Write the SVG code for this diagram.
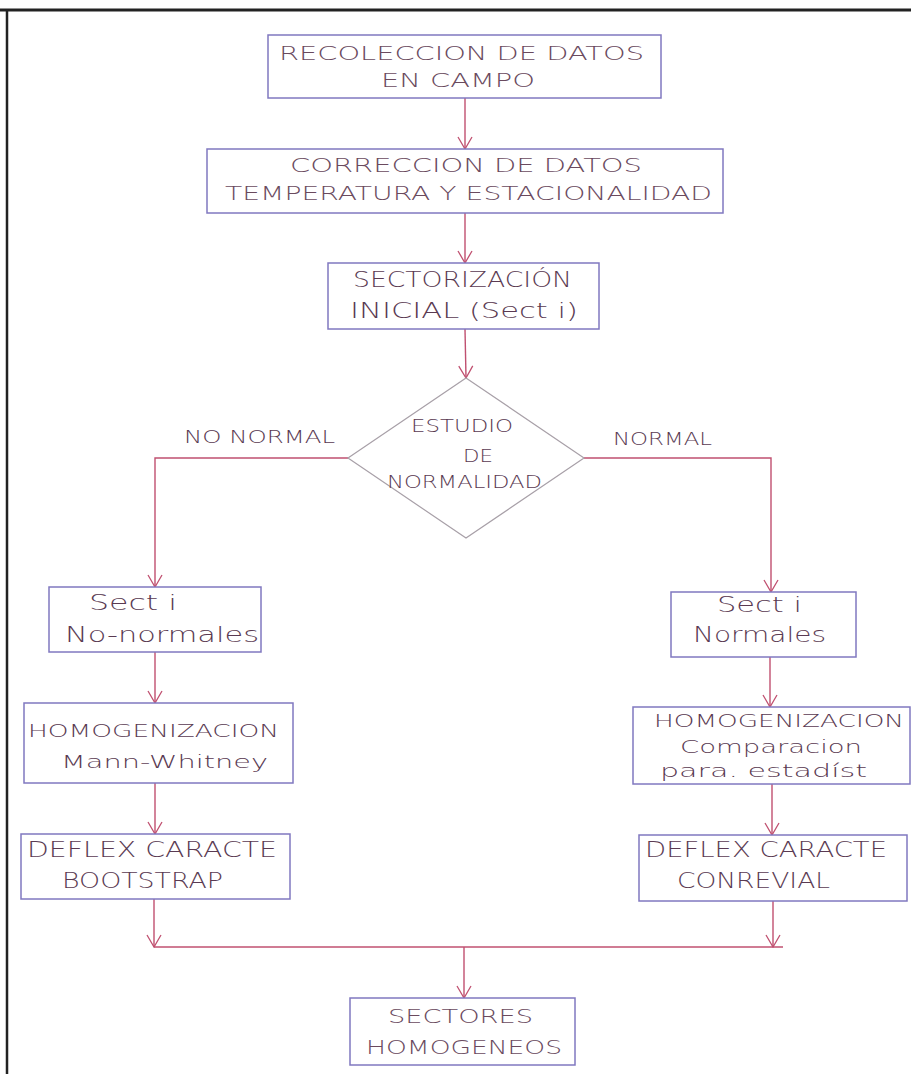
<svg xmlns="http://www.w3.org/2000/svg" width="911" height="1074" viewBox="0 0 911 1074">
<style>
.box{fill:#fff;stroke:#8078c0;stroke-width:1.5}
.dia{fill:#fff;stroke:#a8a0a8;stroke-width:1.2}
.con{fill:none;stroke:#c05070;stroke-width:1.4}
.t{font-family:"DejaVu Sans","Liberation Sans",sans-serif;font-weight:200;fill:#5a3a52}
.n{font-family:"DejaVu Sans","Liberation Sans",sans-serif;font-weight:200;fill:#6a4a5e}
.frame{stroke:#222;fill:none}
</style>
<defs>
<marker id="arr" markerUnits="userSpaceOnUse" markerWidth="14" markerHeight="16" viewBox="0 0 14 16" refX="13" refY="8" orient="auto">
<path d="M1,1 L13,8 L1,15" fill="none" stroke="#c05070" stroke-width="1.3"/>
</marker>
</defs>
<rect width="911" height="1074" fill="#fff"/>
<g id="frame">
<line class="frame" x1="0" y1="10" x2="911" y2="10" stroke-width="3"/>
<line class="frame" x1="7" y1="9" x2="7" y2="1074" stroke-width="2.5"/>
</g>
<g id="connectors">
<line class="con" x1="465" y1="98" x2="465" y2="149" marker-end="url(#arr)"/>
<line class="con" x1="465" y1="213" x2="465" y2="263" marker-end="url(#arr)"/>
<line class="con" x1="465" y1="329" x2="466" y2="378" marker-end="url(#arr)"/>
<polyline class="con" points="348,458 155,458 155,587" marker-end="url(#arr)"/>
<polyline class="con" points="584,458 771,458 771,592" marker-end="url(#arr)"/>
<line class="con" x1="155" y1="652" x2="155" y2="703" marker-end="url(#arr)"/>
<line class="con" x1="155" y1="783" x2="155" y2="834" marker-end="url(#arr)"/>
<line class="con" x1="770" y1="657" x2="770" y2="707" marker-end="url(#arr)"/>
<line class="con" x1="772" y1="784" x2="772" y2="835" marker-end="url(#arr)"/>
<line class="con" x1="154" y1="899" x2="154" y2="947" marker-end="url(#arr)"/>
<line class="con" x1="773" y1="901" x2="773" y2="947" marker-end="url(#arr)"/>
<line class="con" x1="154" y1="947" x2="783" y2="947"/>
<line class="con" x1="464" y1="947" x2="464" y2="998" marker-end="url(#arr)"/>
</g>
<g id="n1">
<rect class="box" x="268" y="35" width="393" height="63"/>
<text class="n" x="279" y="60" font-size="19" textLength="365" lengthAdjust="spacingAndGlyphs">RECOLECCION DE DATOS</text>
<text class="n" x="381" y="87" font-size="19" textLength="154" lengthAdjust="spacingAndGlyphs">EN CAMPO</text>
</g>
<g id="n2">
<rect class="box" x="207" y="149" width="516" height="64"/>
<text class="n" x="290" y="172" font-size="19" textLength="352" lengthAdjust="spacingAndGlyphs">CORRECCION DE DATOS</text>
<text class="n" x="225" y="200" font-size="19" textLength="487" lengthAdjust="spacingAndGlyphs">TEMPERATURA Y ESTACIONALIDAD</text>
</g>
<g id="n3">
<rect class="box" x="328" y="263" width="271" height="66"/>
<text class="t" x="353" y="287" font-size="22" textLength="219" lengthAdjust="spacingAndGlyphs">SECTORIZACIÓN</text>
<text class="t" x="350" y="318" font-size="22" textLength="228" lengthAdjust="spacingAndGlyphs">INICIAL (Sect i)</text>
</g>
<g id="decision">
<polygon class="dia" points="466,378 584,458 466,538 348,458"/>
<text class="t" x="411" y="432" font-size="18" textLength="102" lengthAdjust="spacingAndGlyphs">ESTUDIO</text>
<text class="t" x="463" y="462" font-size="18" textLength="30" lengthAdjust="spacingAndGlyphs">DE</text>
<text class="t" x="387" y="488" font-size="18" textLength="155" lengthAdjust="spacingAndGlyphs">NORMALIDAD</text>
</g>
<g id="labels">
<text class="t" x="184" y="443" font-size="18" textLength="151" lengthAdjust="spacingAndGlyphs">NO NORMAL</text>
<text class="t" x="613" y="445" font-size="17" textLength="99" lengthAdjust="spacingAndGlyphs">NORMAL</text>
</g>
<g id="n4">
<rect class="box" x="49" y="587" width="212" height="65"/>
<text class="t" x="89" y="610" font-size="22" textLength="88" lengthAdjust="spacingAndGlyphs">Sect i</text>
<text class="t" x="65" y="642" font-size="22" textLength="194" lengthAdjust="spacingAndGlyphs">No-normales</text>
</g>
<g id="n5">
<rect class="box" x="24" y="703" width="269" height="80"/>
<text class="t" x="28" y="737" font-size="18" textLength="251" lengthAdjust="spacingAndGlyphs">HOMOGENIZACION</text>
<text class="t" x="61" y="768" font-size="18" textLength="207" lengthAdjust="spacingAndGlyphs">Mann-Whitney</text>
</g>
<g id="n6">
<rect class="box" x="21" y="834" width="269" height="65"/>
<text class="t" x="27" y="857" font-size="21" textLength="250" lengthAdjust="spacingAndGlyphs">DEFLEX CARACTE</text>
<text class="t" x="62" y="888" font-size="21" textLength="161" lengthAdjust="spacingAndGlyphs">BOOTSTRAP</text>
</g>
<g id="r4">
<rect class="box" x="671" y="592" width="185" height="65"/>
<text class="t" x="717" y="612" font-size="21" textLength="85" lengthAdjust="spacingAndGlyphs">Sect i</text>
<text class="t" x="693" y="642" font-size="21" textLength="133" lengthAdjust="spacingAndGlyphs">Normales</text>
</g>
<g id="r5">
<rect class="box" x="633" y="707" width="277" height="77"/>
<text class="t" x="654" y="727" font-size="17" textLength="250" lengthAdjust="spacingAndGlyphs">HOMOGENIZACION</text>
<text class="t" x="680" y="753" font-size="18" textLength="182" lengthAdjust="spacingAndGlyphs">Comparacion</text>
<text class="t" x="660" y="777" font-size="18" textLength="207" lengthAdjust="spacingAndGlyphs">para. estadíst</text>
</g>
<g id="r6">
<rect class="box" x="639" y="835" width="268" height="66"/>
<text class="t" x="645" y="857" font-size="21" textLength="242" lengthAdjust="spacingAndGlyphs">DEFLEX CARACTE</text>
<text class="t" x="677" y="888" font-size="21" textLength="153" lengthAdjust="spacingAndGlyphs">CONREVIAL</text>
</g>
<g id="n7">
<rect class="box" x="350" y="998" width="225" height="67"/>
<text class="n" x="388" y="1023" font-size="19" textLength="145" lengthAdjust="spacingAndGlyphs">SECTORES</text>
<text class="n" x="366" y="1054" font-size="19" textLength="196" lengthAdjust="spacingAndGlyphs">HOMOGENEOS</text>
</g>
</svg>
